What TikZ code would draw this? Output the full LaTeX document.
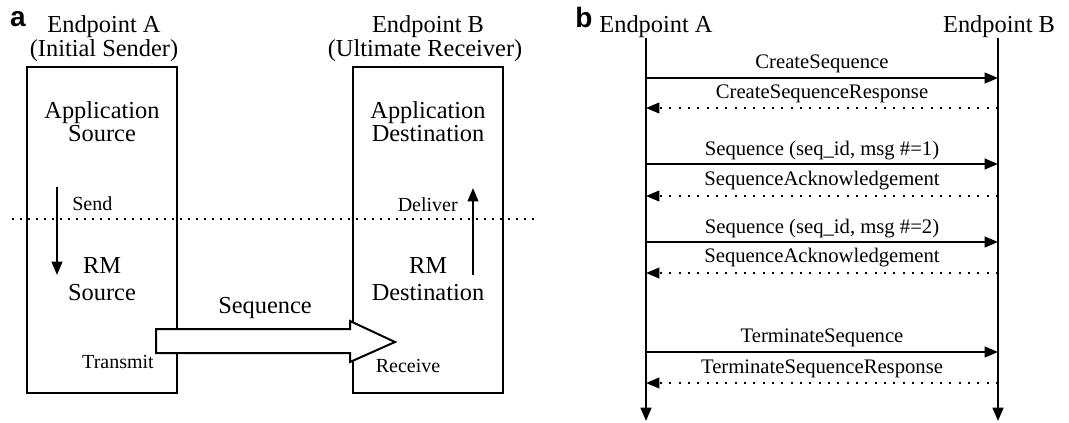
\documentclass[tikz,border=0pt]{standalone}
\usepackage{fontspec}
\setmainfont{Liberation Serif}
\newfontfamily\panelfont{Liberation Sans}
\usetikzlibrary{arrows.meta}
\begin{document}
\begin{tikzpicture}[x=0.75pt,y=-0.75pt,
  big/.style={font=\fontsize{18.3}{18.3}\selectfont, anchor=base, inner sep=0pt},
  mid/.style={font=\fontsize{15}{15}\selectfont, anchor=base, inner sep=0pt},
  msg/.style={font=\fontsize{15.5}{15.5}\selectfont, anchor=base, inner sep=0pt},
  panel/.style={font=\panelfont\bfseries\fontsize{21}{21}\selectfont, anchor=base, inner sep=0pt},
  endbox/.style={draw, line width=1.5pt, minimum width=112.5pt, minimum height=244.5pt, inner sep=0pt},
  tip/.style={-{Triangle[length=10pt,width=8pt]}},
  solidmsg/.style={line width=1.5pt, tip},
  dotmsg/.style={line width=1.5pt, dash pattern=on 1.5pt off 5.5pt, tip},
  life/.style={line width=1.8pt, tip}]
\useasboundingbox (0,0) rectangle (1069,422);

% ---------- panel a ----------
\node[panel] (la) at (18,26) {a};

\node[endbox] (srcbox) at (102,230) {};
\node[endbox] (dstbox) at (427.5,230) {};

\node[big] (titleA1) at (104,32) {Endpoint A};
\node[big] (titleA2) at (104,56) {(Initial Sender)};
\node[big] (titleB1) at (428,32) {Endpoint B};
\node[big] (titleB2) at (425,56) {(Ultimate Receiver)};

\node[big] (appsrc1) at (102,118) {Application};
\node[big] (appsrc2) at (102,141) {Source};
\node[big] (appdst1) at (428,118) {Application};
\node[big] (appdst2) at (428,141) {Destination};

\node[big] (rmsrc1) at (102,273) {RM};
\node[big] (rmsrc2) at (102,300) {Source};
\node[big] (rmdst1) at (428,273) {RM};
\node[big] (rmdst2) at (428,300) {Destination};

% layer boundary
\coordinate (sepL) at (12,219);
\coordinate (sepR) at (540,219);
\draw[line width=1.5pt, dash pattern=on 1.5pt off 4.5pt] (sepL) -- (sepR);

% send / deliver
\node[mid, anchor=base west] (send) at (72,210) {Send};
\node[mid, anchor=base east] (deliver) at (458,211) {Deliver};
\coordinate (sendTop) at (57,187);
\coordinate (sendBot) at (57,275);
\coordinate (delBot) at (473,275);
\coordinate (delTop) at (473,188);
\draw[line width=1.5pt, tip] (sendTop) -- (sendBot);
\draw[line width=1.5pt, tip] (delBot) -- (delTop);

% transmission of the sequence
\draw[line width=1.5pt, fill=white, line join=miter]
  (156,329) -- (350,329) -- (350,321) -- (395,342) -- (350,362) -- (350,353) -- (156,353) -- cycle;
\node[big] (seqlbl) at (265,313) {Sequence};
\node[mid] (transmit) at (118,368) {Transmit};
\node[mid] (receive) at (408,372) {Receive};

% ---------- panel b ----------
\node[panel] (lb) at (584,27) {b};
\node[big] (epA) at (656,32) {Endpoint A};
\node[big] (epB) at (999,32) {Endpoint B};

\coordinate (aTop) at (646,38);
\coordinate (aBot) at (646,421);
\coordinate (bTop) at (998,38);
\coordinate (bBot) at (998,421);
\draw[life] (aTop) -- (aBot);
\draw[life] (bTop) -- (bBot);

\foreach \n/\y in {1/78,2/108,3/164,4/196,5/242,6/273,7/352,8/383}{
  \coordinate (mA\n) at (aTop |- 0,\y);
  \coordinate (mB\n) at (bTop |- 0,\y);
}
\draw[solidmsg] (mA1) -- (mB1);
\draw[dotmsg]   (mB2) -- (mA2);
\draw[solidmsg] (mA3) -- (mB3);
\draw[dotmsg]   (mB4) -- (mA4);
\draw[solidmsg] (mA5) -- (mB5);
\draw[dotmsg]   (mB6) -- (mA6);
\draw[solidmsg] (mA7) -- (mB7);
\draw[dotmsg]   (mB8) -- (mA8);

\node[msg] (m1) at (822,68)  {CreateSequence};
\node[msg] (m2) at (822,98)  {CreateSequenceResponse};
\node[msg] (m3) at (822,155) {Sequence (seq\_id, msg \#=1)};
\node[msg] (m4) at (822,185) {SequenceAcknowledgement};
\node[msg] (m5) at (822,233) {Sequence (seq\_id, msg \#=2)};
\node[msg] (m6) at (822,262) {SequenceAcknowledgement};
\node[msg] (m7) at (822,342) {TerminateSequence};
\node[msg] (m8) at (822,373) {TerminateSequenceResponse};
\end{tikzpicture}
\end{document}
